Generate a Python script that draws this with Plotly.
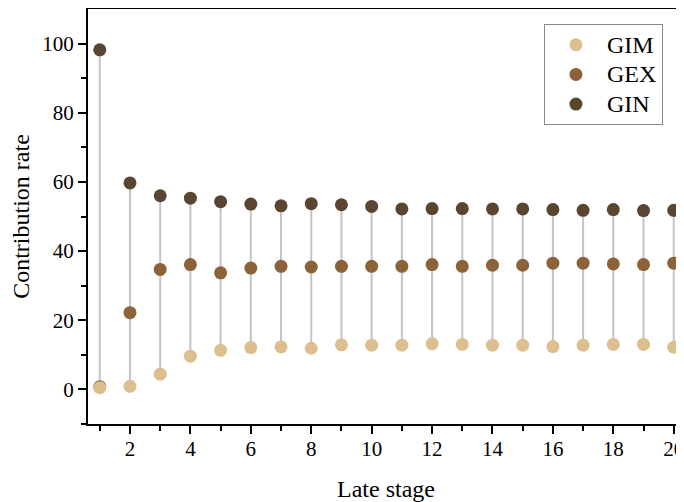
import plotly.graph_objects as go

stages = list(range(1, 21))
gim = [0.5, 0.9, 4.4, 9.6, 11.3, 12.1, 12.3, 11.9, 12.9, 12.8, 12.8, 13.2, 13.0, 12.8, 12.8, 12.4, 12.8, 13.0, 13.0, 12.2]
gex = [0.8, 22.2, 34.7, 36.1, 33.7, 35.1, 35.6, 35.4, 35.6, 35.6, 35.6, 36.1, 35.6, 35.9, 35.9, 36.5, 36.5, 36.3, 36.1, 36.5]
gin = [98.2, 59.7, 56.0, 55.3, 54.3, 53.6, 53.1, 53.7, 53.4, 52.9, 52.2, 52.3, 52.3, 52.2, 52.2, 52.0, 51.8, 52.0, 51.7, 51.8]

colors = {"GIM": "#DCBE8F", "GEX": "#8C6239", "GIN": "#5A4530"}
font_family = "Liberation Serif"

fig = go.Figure()

# stems
sx, sy = [], []
for x, a, b, c in zip(stages, gim, gex, gin):
    sx += [x, x, None]
    sy += [min(a, b, c), max(a, b, c), None]
fig.add_trace(go.Scatter(x=sx, y=sy, mode="lines", line=dict(color="#C4C4C4", width=2),
                         showlegend=False, hoverinfo="skip"))

series = {"GIM": gim, "GEX": gex, "GIN": gin}
ranks = {"GIM": 1, "GEX": 2, "GIN": 3}
for nm in ["GEX", "GIM", "GIN"]:
    fig.add_trace(go.Scatter(x=stages, y=series[nm], mode="markers",
                             name="<span style='font-size:24px'>%s</span>" % nm,
                             legendrank=ranks[nm],
                             marker=dict(color=colors[nm], size=13)))

# page body has an 8px margin, so the figure is sized/offset to compensate
fig.update_layout(
    width=676, height=494,
    margin=dict(l=80, r=0, t=1, b=78),
    plot_bgcolor="white", paper_bgcolor="white",
    font=dict(family=font_family, color="black", size=21),
    legend=dict(x=0.765, y=0.964, xanchor="left", yanchor="top",
                bordercolor="#888888", borderwidth=1, bgcolor="white",
                font=dict(size=20.5, family=font_family), itemwidth=52,
                tracegroupgap=0),
)
fig.update_xaxes(
    range=[0.61, 20.34], tickmode="array", tickvals=list(range(2, 21, 2)),
    ticks="outside", ticklen=8, tickwidth=2, tickcolor="black",
    showline=True, linecolor="black", linewidth=2, mirror=True,
    showgrid=False, zeroline=False, tickfont=dict(size=21),
    ticklabelstandoff=-3, ticklabeloverflow="allow",
    minor=dict(tickvals=list(range(1, 21, 2)), ticks="outside", ticklen=5, tickwidth=2, tickcolor="black"),
    title=dict(text="Late stage", font=dict(size=24), standoff=21),
)
fig.update_yaxes(
    range=[-10, 110], tickmode="array", tickvals=[0, 20, 40, 60, 80, 100],
    ticks="outside", ticklen=8, tickwidth=2, tickcolor="black",
    showline=True, linecolor="black", linewidth=2,
    showgrid=False, zeroline=False, tickfont=dict(size=21),
    minor=dict(tickvals=[-10, 10, 30, 50, 70, 90], ticks="outside", ticklen=5, tickwidth=2, tickcolor="black"),
    title=dict(text="Contribution rate", font=dict(size=24), standoff=9),
)

fig.write_html("out.html")
